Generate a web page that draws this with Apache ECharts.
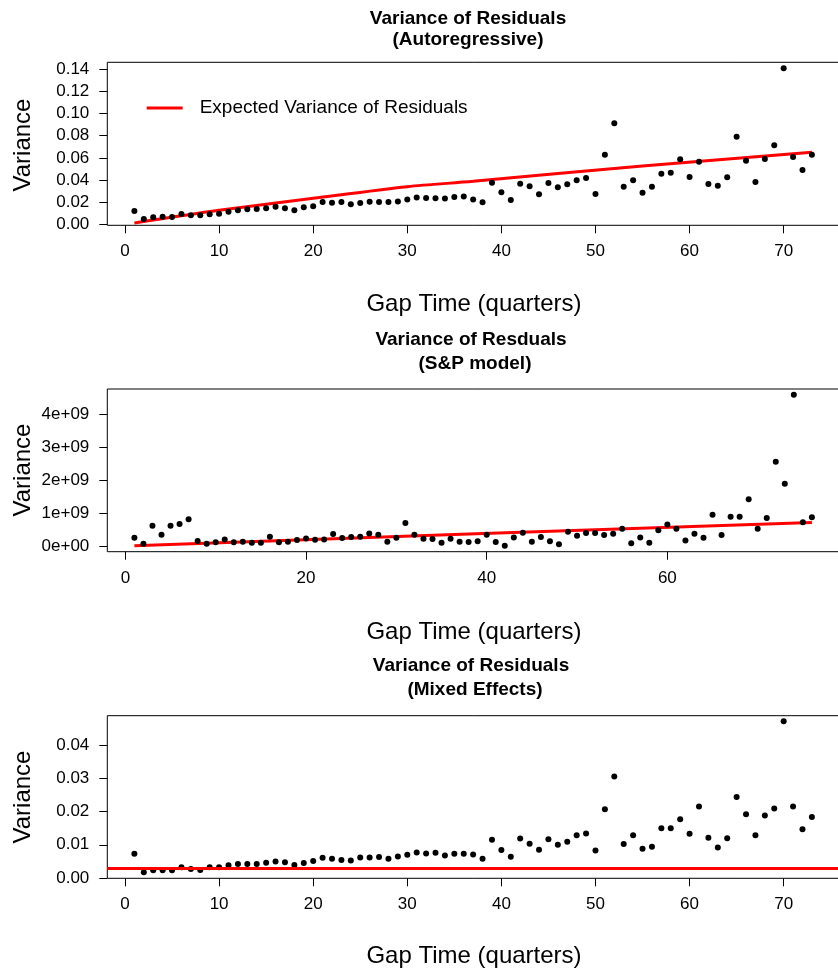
<!DOCTYPE html>
<html>
<head>
<meta charset="utf-8">
<script src="https://cdn.jsdelivr.net/npm/echarts@6/dist/echarts.min.js"></script>
<style>
html,body{margin:0;padding:0;background:#fff;}
#chart{width:838px;height:970px;}
</style>
</head>
<body>
<div id="chart"></div>
<script>
// ---- Panel 1: Autoregressive ----
const arGap = [1,2,3,4,5,6,7,8,9,10,11,12,13,14,15,16,17,18,19,20,21,22,23,24,25,26,27,28,29,30,31,32,33,34,35,36,37,38,39,40,41,42,43,44,45,46,47,48,49,50,51,52,53,54,55,56,57,58,59,60,61,62,63,64,65,66,67,68,69,70,71,72,73];
const arVariance = [0.0120,0.0048,0.0063,0.0069,0.0066,0.0093,0.0081,0.0081,0.0090,0.0096,
  0.0114,0.0126,0.0135,0.0138,0.0144,0.0159,0.0144,0.0126,0.0153,0.0162,
  0.0201,0.0195,0.0201,0.0180,0.0192,0.0204,0.0201,0.0201,0.0205,0.0224,
  0.0242,0.0238,0.0235,0.0234,0.0247,0.0251,0.0224,0.0199,0.0376,0.0289,
  0.0219,0.0367,0.0343,0.0271,0.0373,0.0334,0.0361,0.0397,0.0418,0.0274,
  0.0629,0.0912,0.0340,0.0397,0.0285,0.0340,0.0457,0.0466,0.0587,0.0427,
  0.0565,0.0364,0.0349,0.0424,0.0791,0.0574,0.0382,0.0590,0.0713,0.1409,
  0.0608,0.0490,0.0629];
const arExpectedGap = [1,10,20,30,37,55,73];
const arExpectedVar = [0.0012,0.0126,0.0235,0.0340,0.0388,0.0527,0.0650];
const arXTicks = [0,10,20,30,40,50,60,70];
const arYTicks = [0,0.02,0.04,0.06,0.08,0.10,0.12,0.14];

// ---- Panel 2: S&P model ----
const spGap = [1,2,3,4,5,6,7,8,9,10,11,12,13,14,15,16,17,18,19,20,21,22,23,24,25,26,27,28,29,30,31,32,33,34,35,36,37,38,39,40,41,42,43,44,45,46,47,48,49,50,51,52,53,54,55,56,57,58,59,60,61,62,63,64,65,66,67,68,69,70,71,72,73,74,75,76];
const spVariance = [2.5e8,0.7e8,6.1e8,3.4e8,6.1e8,6.7e8,8.1e8,1.5e8,0.7e8,1.1e8,
  2.0e8,1.1e8,1.3e8,1.0e8,1.0e8,2.8e8,1.1e8,1.3e8,1.8e8,2.3e8,
  1.9e8,2.0e8,3.6e8,2.4e8,2.7e8,2.8e8,3.8e8,3.4e8,1.3e8,2.5e8,
  7.0e8,3.4e8,2.2e8,2.1e8,1.0e8,2.2e8,1.3e8,1.2e8,1.4e8,3.4e8,
  1.2e8,0.1e8,2.6e8,4.0e8,1.3e8,2.7e8,1.4e8,0.5e8,4.3e8,3.1e8,
  3.9e8,3.9e8,3.3e8,3.7e8,5.2e8,0.8e8,2.6e8,1.0e8,4.8e8,6.5e8,
  5.2e8,1.7e8,3.7e8,2.5e8,9.5e8,3.3e8,8.9e8,8.9e8,14.2e8,5.2e8,
  8.5e8,25.5e8,18.9e8,45.8e8,7.2e8,8.7e8];
const spExpectedGap = [1,38,76];
const spExpectedVar = [0.01e9,0.36e9,0.71e9];
const spXTicks = [0,20,40,60];
const spYTicks = [0,1e9,2e9,3e9,4e9];

// ---- Panel 3: Mixed Effects ----
const meGap = [1,2,3,4,5,6,7,8,9,10,11,12,13,14,15,16,17,18,19,20,21,22,23,24,25,26,27,28,29,30,31,32,33,34,35,36,37,38,39,40,41,42,43,44,45,46,47,48,49,50,51,52,53,54,55,56,57,58,59,60,61,62,63,64,65,66,67,68,69,70,71,72,73];
const meVariance = [0.0073,0.0017,0.0023,0.0023,0.0023,0.0032,0.0027,0.0024,0.0032,0.0032,
  0.0038,0.0042,0.0042,0.0042,0.0046,0.0050,0.0047,0.0039,0.0045,0.0051,
  0.0061,0.0058,0.0054,0.0053,0.0062,0.0062,0.0063,0.0058,0.0065,0.0070,
  0.0077,0.0074,0.0076,0.0068,0.0073,0.0073,0.0071,0.0058,0.0115,0.0084,
  0.0064,0.0119,0.0103,0.0085,0.0117,0.0100,0.0109,0.0129,0.0134,0.0083,
  0.0207,0.0306,0.0102,0.0129,0.0088,0.0094,0.0150,0.0150,0.0177,0.0133,
  0.0215,0.0121,0.0092,0.0120,0.0244,0.0192,0.0129,0.0188,0.0209,0.0472,
  0.0215,0.0147,0.0184];
const meExpectedVar = 0.0030;
const meXTicks = [0,10,20,30,40,50,60,70];
const meYTicks = [0,0.01,0.02,0.03,0.04];

const FONT = '"Liberation Sans", Arial, Helvetica, sans-serif';
const pairs = (xs, ys) => xs.map((x, i) => [x, ys[i]]);

const chart = echarts.init(document.getElementById('chart'), null, {renderer: 'canvas'});

function grid(top, height) {
  return {left: 107.3, top: top, width: 731.7, height: height, show: true,
    borderColor: '#000', borderWidth: 1, backgroundColor: 'transparent',
    containLabel: false, outerBoundsMode: 'none'};
}
function xAxis(idx, min, max, ticks) {
  return {type: 'value', gridIndex: idx, min: min, max: max, position: 'bottom',
    axisLine: {show: false, onZero: false}, splitLine: {show: false},
    axisTick: {show: true, inside: false, length: 8, customValues: ticks, lineStyle: {color: '#000', width: 1}},
    axisLabel: {customValues: ticks, margin: 18, color: '#000', fontSize: 17, fontFamily: FONT}};
}
function yAxis(idx, min, max, ticks, fmt) {
  return {type: 'value', gridIndex: idx, min: min, max: max, position: 'left',
    axisLine: {show: false, onZero: false}, splitLine: {show: false},
    axisTick: {show: true, inside: false, length: 8, customValues: ticks, lineStyle: {color: '#000', width: 1}},
    axisLabel: {customValues: ticks, margin: 18, color: '#000', fontSize: 17, fontFamily: FONT, formatter: fmt}};
}
const fix2 = v => Number(v).toFixed(2);
const sci = v => { const m = Math.round(v / 1e9); return m === 0 ? '0e+00' : m + 'e+09'; };

function txt(x, y, text, size, bold, rot) {
  return {type: 'text', x: x, y: y, rotation: rot || 0, silent: true,
    style: {text: text, fill: '#000', font: (bold ? 'bold ' : '') + size + 'px ' + FONT,
      textAlign: 'center', textVerticalAlign: 'middle'}};
}

const dotStyle = {color: '#000', opacity: 1};
const option = {
  backgroundColor: '#fff',
  animation: false,
  grid: [grid(62.3, 163), grid(389, 162.7), grid(715.7, 162.6)],
  xAxis: [xAxis(0, -1.88, 75.88, arXTicks), xAxis(1, -2, 79, spXTicks), xAxis(2, -1.88, 75.88, meXTicks)],
  yAxis: [yAxis(0, -0.0009, 0.1463, arYTicks, fix2), yAxis(1, -0.173e9, 4.758e9, spYTicks, sci), yAxis(2, -0.0001, 0.0489, meYTicks, fix2)],
  legend: {
    left: 141.7, top: 93.5, orient: 'vertical', icon: 'rect', itemWidth: 36, itemHeight: 3,
    data: ['Expected Variance of Residuals'],
    textStyle: {fontSize: 19, fontFamily: FONT, color: '#000', padding: [0, 0, 0, 12]},
    selectedMode: false
  },
  graphic: [
    txt(468, 19, 'Variance of Residuals', 19, true), txt(468, 39.5, '(Autoregressive)', 19, true),
    txt(471, 340, 'Variance of Resduals', 19, true), txt(475, 364, '(S&P model)', 19, true),
    txt(471, 665.5, 'Variance of Residuals', 19, true), txt(475, 689.5, '(Mixed Effects)', 19, true),
    txt(23, 145, 'Variance', 24, false, Math.PI / 2),
    txt(23, 470, 'Variance', 24, false, Math.PI / 2),
    txt(23, 797, 'Variance', 24, false, Math.PI / 2),
    txt(474, 304, 'Gap Time (quarters)', 24, false),
    txt(474, 632, 'Gap Time (quarters)', 24, false),
    txt(474, 956, 'Gap Time (quarters)', 24, false)
  ],
  series: [
    {type: 'line', name: 'Expected Variance of Residuals', xAxisIndex: 0, yAxisIndex: 0,
      data: pairs(arExpectedGap, arExpectedVar), smooth: 0.3, showSymbol: false,
      lineStyle: {color: '#ff0000', width: 3}, itemStyle: {color: '#ff0000'}, z: 3},
    {type: 'scatter', xAxisIndex: 0, yAxisIndex: 0, data: pairs(arGap, arVariance),
      symbolSize: 6, itemStyle: dotStyle, z: 4},
    {type: 'line', xAxisIndex: 1, yAxisIndex: 1, data: pairs(spExpectedGap, spExpectedVar),
      showSymbol: false, lineStyle: {color: '#ff0000', width: 3}, z: 3},
    {type: 'scatter', xAxisIndex: 1, yAxisIndex: 1, data: pairs(spGap, spVariance),
      symbolSize: 6, itemStyle: dotStyle, z: 4},
    {type: 'scatter', xAxisIndex: 2, yAxisIndex: 2, data: pairs(meGap, meVariance),
      symbolSize: 6, itemStyle: dotStyle, z: 4,
      markLine: {silent: true, precision: 6, symbol: ['none', 'none'], label: {show: false},
        lineStyle: {color: '#ff0000', width: 3, type: 'solid'},
        data: [{yAxis: meExpectedVar}]}}
  ]
};
chart.setOption(option);
</script>
</body>
</html>
